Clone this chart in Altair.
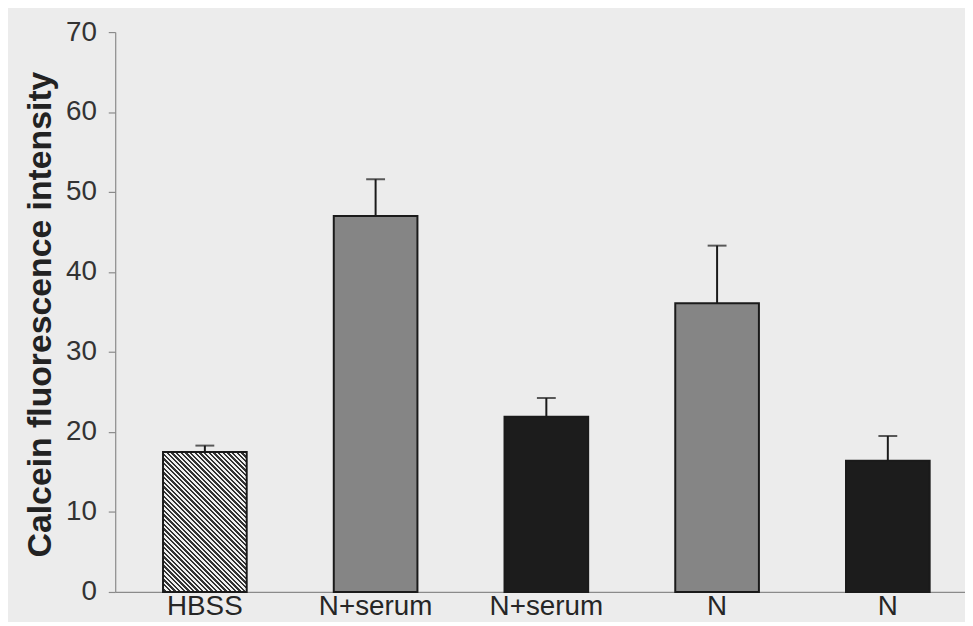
import json
import altair as alt
import pandas as pd

# ---- data ----
labels = ["HBSS", "N+serum", "N+serum", "N", "N"]
means = [17.5, 47.0, 21.9, 36.1, 16.4]
errors = [0.8, 4.6, 2.35, 7.2, 3.1]
y_ticks = [0, 10, 20, 30, 40, 50, 60, 70]

df = pd.DataFrame({"idx": list(range(len(labels))), "label": labels,
                   "mean": means, "err": errors})

# ---- styles ----
W, H = 856, 564
FONT = "Liberation Sans"
EDGE = "#1a1a1a"
AXIS = "#8a8a8a"
fills = ["#858585", "#1c1c1c", "#858585", "#1c1c1c"]
P_IN, P_OUT, ALIGN = 0.51, 0.2435, 0.575

# diagonal hatch for the HBSS bar, built as a hard-stop linear gradient
step = W / (5 - P_IN + 2 * P_OUT)
bw = step * (1 - P_IN)
bh = means[0] / 70 * H
k = (bw + bh) / (bw * bw + bh * bh)
dx, dy = k * bw, -k * bh
n = 48
stops = []
for i in range(n):
    a, m, b = i / n, (i + 0.5) / n, (i + 1) / n
    stops += [alt.GradientStop(offset=a, color="#f0f0f0"),
              alt.GradientStop(offset=m, color="#f0f0f0"),
              alt.GradientStop(offset=m, color="#333333"),
              alt.GradientStop(offset=b, color="#333333")]
hatch = alt.LinearGradient(gradient="linear", stops=stops,
                           x1=0, y1=1, x2=dx, y2=1 + dy)

label_expr = json.dumps(labels) + "[datum.value]"

x_enc = alt.X("idx:O",
              scale=alt.Scale(paddingInner=P_IN, paddingOuter=P_OUT, align=ALIGN),
              axis=alt.Axis(title=None, labelExpr=label_expr, labelAngle=0,
                            ticks=False, labelFontSize=28, labelColor="#262626",
                            labelFont=FONT, labelPadding=1, domainColor=AXIS,
                            domainWidth=1.2))
y_enc = alt.Y("mean:Q",
              scale=alt.Scale(domain=[0, 70], nice=False),
              axis=alt.Axis(title="Calcein fluorescence intensity", values=y_ticks,
                            grid=False, tickSize=7, tickColor=AXIS, domainColor=AXIS,
                            domainWidth=1.2, tickWidth=1.2,
                            labelFontSize=28, labelColor="#333333", labelFont=FONT,
                            labelPadding=12, titleFont=FONT, titleFontSize=34,
                            titleFontWeight="bold", titleColor="#222222",
                            titleAngle=270, titleX=-75, titleY=284,
                            titleAlign="center", titleBaseline="middle"))

base = alt.Chart(df).transform_calculate(upper="datum.mean + datum.err")

bars = base.transform_filter("datum.idx > 0").mark_bar(
    stroke=EDGE, strokeWidth=2).encode(
    x=x_enc, y=y_enc,
    fill=alt.Fill("idx:O", scale=alt.Scale(domain=[1, 2, 3, 4], range=fills),
                  legend=None))

hbss = base.transform_filter("datum.idx == 0").mark_bar(
    fill=hatch, stroke=EDGE, strokeWidth=2).encode(x=x_enc, y=y_enc)

stems = base.mark_rule(color=EDGE, strokeWidth=2).encode(
    x=x_enc, y="mean:Q", y2="upper:Q")

caps = base.mark_tick(color=EDGE, orient="horizontal", size=19,
                      thickness=2).encode(x=x_enc, y="upper:Q")

chart = alt.layer(bars, hbss, stems, caps).properties(
    width=W, height=H,
    autosize=alt.AutoSizeParams(type="none"),
    padding={"left": 108, "top": 22, "right": 0, "bottom": 28},
    background="#ececec",
).configure_view(stroke=None)

chart.save("out.html", embed_options={"renderer": "svg", "actions": False})
